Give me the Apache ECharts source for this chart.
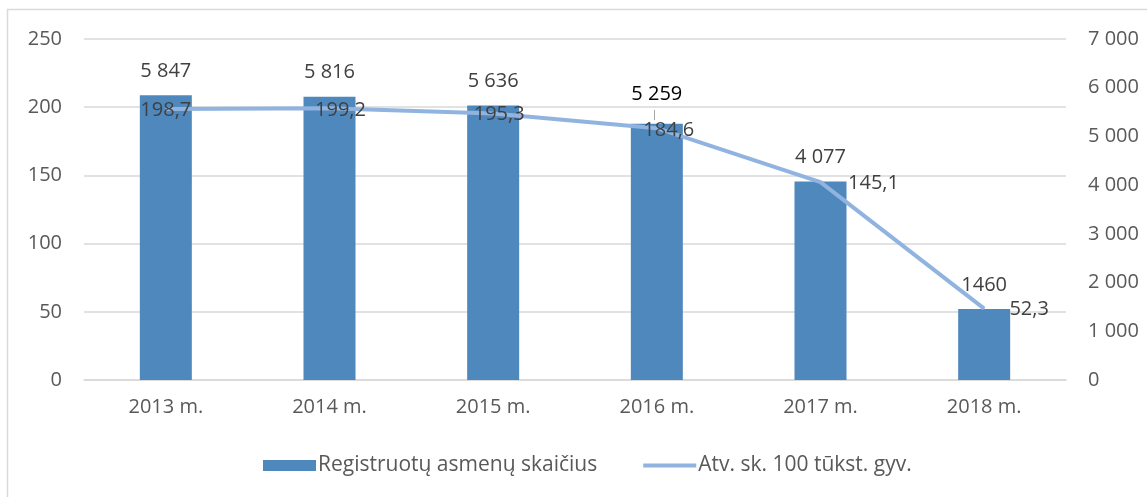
<!DOCTYPE html>
<html>
<head>
<meta charset="utf-8">
<script src="https://cdn.jsdelivr.net/npm/echarts@6/dist/echarts.min.js"></script>
<style>
  html, body { margin: 0; padding: 0; background: #fff; }
  #chart { width: 1147px; height: 497px; }
</style>
</head>
<body>
<div id="chart"></div>
<script>
// duomenys
const years = ['2013 m.', '2014 m.', '2015 m.', '2016 m.', '2017 m.', '2018 m.'];
const registered = [5847, 5816, 5636, 5259, 4077, 1460];
const registeredText = ['5 847', '5 816', '5 636', '5 259', '4 077', '1460'];
const per100k = [198.7, 199.2, 195.3, 184.6, 145.1, 52.3];
const leftTicks = [0, 50, 100, 150, 200, 250];
const rightTicks = [0, 1000, 2000, 3000, 4000, 5000, 6000, 7000];

// etikečių poslinkiai (kaip Excel'yje)
const lineLabelShift = [[0, 1], [11, 2], [6, 1], [12, 2], [53, 1], [45, 1]];

const font = '"Open Sans", "DejaVu Sans", sans-serif';
const chart = echarts.init(document.getElementById('chart'));

const fmtSpace = v => String(v).replace(/\B(?=(\d{3})+(?!\d))/g, ' ');

const barData = registered.map((v, i) => {
  const item = { value: v };
  if (i === 3) item.label = { color: '#000', distance: 20 };
  return item;
});
const lineData = per100k.map((v, i) => ({
  value: v,
  label: { offset: lineLabelShift[i] }
}));

const option = {
  animation: false,
  textStyle: { fontFamily: font },
  graphic: [{
    type: 'rect',
    shape: { x: 7.5, y: 9.5, width: 1200, height: 600 },
    style: { fill: 'none', stroke: '#d9d9d9', lineWidth: 1.5 },
    silent: true
  }, {
    // 2016 m. etiketės linija
    type: 'line',
    shape: { x1: 654.5, y1: 110, x2: 654.5, y2: 120 },
    style: { stroke: '#a6a6a6', lineWidth: 1 },
    silent: true
  }],
  grid: { left: 84, right: 81, top: 39, bottom: 117 },
  legend: {
    left: 258,
    top: 450,
    itemWidth: 53,
    itemHeight: 11,
    itemGap: 46,
    textStyle: { fontFamily: font, fontSize: 21, color: '#595959', padding: [0, 0, 0, -3] },
    data: [
      { name: 'Registruotų asmenų skaičius', icon: 'rect' },
      { name: 'Atv. sk. 100 tūkst. gyv.', icon: 'path://M0,0L53,0L53,4L0,4Z' }
    ]
  },
  xAxis: {
    type: 'category',
    data: years,
    axisLine: { lineStyle: { color: '#d9d9d9', width: 1.5 } },
    axisTick: { show: false },
    axisLabel: { fontFamily: font, fontSize: 20, color: '#595959', margin: 17 }
  },
  yAxis: [{
    type: 'value',
    min: leftTicks[0],
    max: leftTicks[leftTicks.length - 1],
    interval: 50,
    axisLine: { show: false },
    axisTick: { show: false },
    splitLine: { lineStyle: { color: '#d9d9d9', width: 1.5 } },
    axisLabel: { fontFamily: font, fontSize: 20, color: '#595959', margin: 22 }
  }, {
    type: 'value',
    min: rightTicks[0],
    max: rightTicks[rightTicks.length - 1],
    interval: 1000,
    axisLine: { show: false },
    axisTick: { show: false },
    splitLine: { show: false },
    axisLabel: { fontFamily: font, fontSize: 20, color: '#595959', margin: 22, formatter: fmtSpace }
  }],
  series: [{
    name: 'Registruotų asmenų skaičius',
    type: 'bar',
    yAxisIndex: 1,
    barWidth: 52,
    itemStyle: { color: '#4F88BC' },
    label: {
      show: true,
      position: 'top',
      distance: 14,
      fontFamily: font,
      fontSize: 20,
      color: '#404040',
      formatter: p => registeredText[p.dataIndex]
    },
    data: barData
  }, {
    name: 'Atv. sk. 100 tūkst. gyv.',
    type: 'line',
    yAxisIndex: 0,
    symbol: 'circle',
    symbolSize: 1,
    z: 5,
    itemStyle: { color: '#90B4DF' },
    lineStyle: { color: '#90B4DF', width: 4 },
    label: {
      show: true,
      position: 'inside',
      fontFamily: font,
      fontSize: 20,
      color: '#404040',
      formatter: p => String(p.value).replace('.', ',')
    },
    data: lineData
  }]
};

chart.setOption(option);
</script>
</body>
</html>
